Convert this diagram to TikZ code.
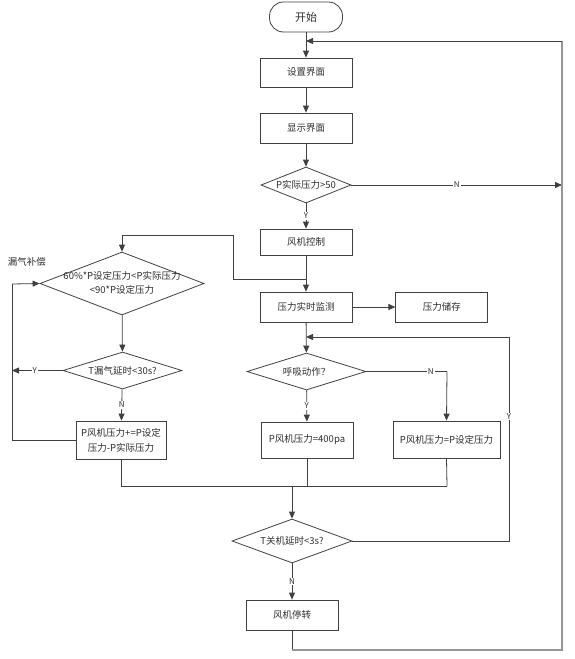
\documentclass[tikz,border=0pt]{standalone}
\usepackage{fontspec}
\setmainfont{Noto Sans CJK SC}
\usepackage{tikz}
\usetikzlibrary{arrows.meta, positioning, shapes.geometric}
\definecolor{linecolor}{RGB}{64,64,64}
\definecolor{loopcolor}{RGB}{150,150,150}
\definecolor{textcolor}{RGB}{45,45,45}
\newcommand{\condtext}[1]{\makebox[0pt]{#1}}

\begin{document}
\begin{tikzpicture}[
  x=1pt, y=-1pt,
  every node/.style={text=textcolor},
  proc/.style={draw=linecolor, line width=0.8pt, minimum width=92pt,
               minimum height=30pt, align=center, inner sep=2pt,
               font=\fontsize{9.5}{15}\selectfont},
  term/.style={proc, rounded corners=14pt, minimum width=73pt,
               font=\fontsize{11}{13}\selectfont},
  cond/.style={draw=linecolor, line width=0.8pt, diamond, inner sep=0pt,
               font=\fontsize{9.5}{14}\selectfont},
  yn/.style={fill=white, inner sep=1pt, font=\fontsize{8}{9}\selectfont},
  arr/.style={-{Triangle[length=7pt,width=6pt]}, line width=0.8pt, draw=linecolor},
  ln/.style={line width=0.8pt, draw=linecolor},
  back/.style={line width=1.6pt, draw=loopcolor}
]
\useasboundingbox (0,0) rectangle (575,659);

\node[term] (start) at (306,17) {开始};
\node[proc, minimum height=29pt] (set) at (306,72.5) {设置界面};
\node[proc] (show) at (306,128) {显示界面};
\node[cond, minimum width=90pt, minimum height=36pt] (pmin) at (306,185)
      {\condtext{P实际压力>50}};
\node[proc, minimum height=26pt] (fan) at (306,242) {风机控制};
\node[proc] (mon) at (306,307) {压力实时监测};
\node[proc, right=43pt of mon] (store) {压力储存};
\node[cond, minimum width=119pt, minimum height=37pt] (breath) at (306.5,371.5)
      {\condtext{呼吸动作？}};
\node[proc, minimum height=36pt] (fixed) at (307,440) {P风机压力=400pa};
\node[proc, minimum width=107pt, minimum height=37pt] (follow) at (446.5,439.5)
      {P风机压力=P设定压力};
\node[cond, minimum width=120pt, minimum height=44pt] (offdelay) at (292,541)
      {\condtext{T关机延时<3s?}};
\node[proc] (stop) at (292,615) {风机停转};

\node[font=\fontsize{9.5}{11}\selectfont] (leak) at (27,262) {漏气补偿};
\node[cond, minimum width=164pt, minimum height=63pt] (range) at (122,283.5)
      {\condtext{\begin{tabular}{@{}c@{}}60\%*P设定压力<P实际压力\\<90*P设定压力\end{tabular}}};
\node[cond, minimum width=119pt, minimum height=37pt] (leakdelay) at (122.5,370.5)
      {\condtext{T漏气延时<30s?}};
\node[proc, minimum width=90pt, minimum height=38pt] (comp) at (121,440)
      {P风机压力+=P设定\\压力-P实际压力};

\coordinate (top) at (306,41);
\coordinate (rtop) at (562,41);
\coordinate (rmid) at (562,185);
\coordinate (rbot) at (562,650);
\coordinate (sbot) at (292,650);
\coordinate (join) at (306,279);
\coordinate (jl) at (233,279);
\coordinate (jt) at (233,235);
\coordinate (dt) at (122,235);
\coordinate (again) at (306,337);
\coordinate (ar) at (509,337);
\coordinate (dr) at (509,541);
\coordinate (nb) at (447,371.5);
\coordinate (merge) at (292,486);
\coordinate (ml) at (121,486);
\coordinate (mr) at (447,486);
\coordinate (ym) at (307,486);
\coordinate (yl) at (12,370.5);
\coordinate (cl) at (12,440);
\coordinate (ct) at (12,284);

\draw[arr] (start) -- (set);
\draw[arr] (set) -- (show);
\draw[arr] (show) -- (pmin);
\draw[arr] (pmin) -- node[yn]{Y} (fan);
\draw[arr] (pmin.east) -- node[yn]{N} (rmid);
\draw[arr] (fan) -- (mon);
\draw[ln] (join) -- (jl) -- (jt) -- (dt);
\draw[arr] (dt) -- (range.north);
\draw[arr] (mon) -- (store);
\draw[arr] (mon) -- (breath);
\draw[arr] (breath) -- node[yn]{Y} (fixed);
\draw[ln] (breath.east) -- node[yn, pos=0.8]{N} (nb);
\draw[arr] (nb) -- (follow.north);
\draw[ln] (fixed.south) -- (ym);
\draw[ln] (follow.south) -- (mr);
\draw[ln] (comp.south) -- (ml);
\draw[ln] (ml) -- (mr);
\draw[arr] (merge) -- (offdelay.north);
\draw[arr] (offdelay) -- node[yn]{N} (stop);
\draw[ln] (offdelay.east) -- (dr) -- node[yn, pos=0.61]{Y} (ar);
\draw[arr] (ar) -- (again);

\draw[ln] (stop.south) -- (sbot);
\draw[back] (sbot) -- (rbot) -- (rtop);
\draw[arr] (rtop) -- (top);

\draw[arr] (range) -- (leakdelay);
\draw[arr] (leakdelay.west) -- node[yn, pos=0.55]{Y} (yl);
\draw[arr] (leakdelay) -- node[yn]{N} (comp);
\draw[ln] (comp.west) -- (cl) -- (ct);
\draw[arr] (ct) -- (range.west);
\end{tikzpicture}
\end{document}
